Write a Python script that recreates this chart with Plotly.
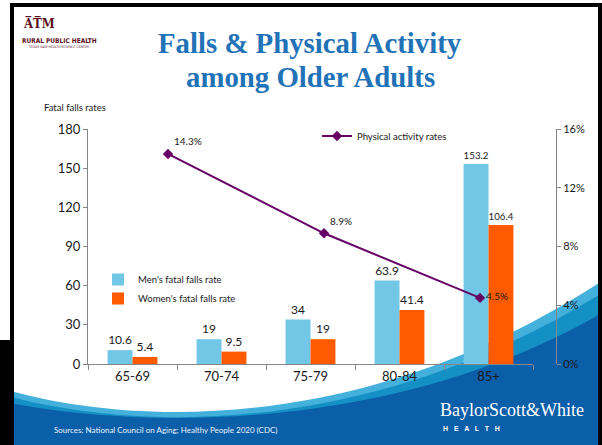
import plotly.graph_objects as go

W, H = 602, 445

# ---------------- data ----------------
categories = ["65-69", "70-74", "75-79", "80-84", "85+"]
men_rates = [10.6, 19, 34, 63.9, 153.2]
women_rates = [5.4, 9.5, 19, 41.4, 106.4]
pa_categories = ["65-69", "75-79", "85+"]
pa_rates = [0.143, 0.089, 0.045]
pa_labels = ["14.3%", "8.9%", "4.5%"]
left_ticks = [0, 30, 60, 90, 120, 150, 180]
right_ticks = [0, 0.04, 0.08, 0.12, 0.16]

FONT = "Lato, 'Open Sans', sans-serif"
TXT = "#1a1a1a"
AXC = "#868686"


def px(x):
    return x / W


def py(y):
    return 1 - y / H


def pt(x, y):
    return f"{px(x):.5f},{py(y):.5f}"


def wave(y_left, c1, c2, y_right):
    # closed region below a cubic curve, down to the bottom edge
    return (f"M {pt(0, y_left)} C {pt(*c1)} {pt(*c2)} {pt(602, y_right)} "
            f"L {pt(602, 445)} L {pt(0, 445)} Z")


fig = go.Figure()

fig.add_trace(go.Bar(
    x=categories, y=men_rates, name="Men's fatal falls rate",
    marker=dict(color="#72C6E6", line=dict(width=0)),
    text=[f"{v:g}" for v in men_rates], textposition="outside",
    textfont=dict(size=12, color=TXT, family=FONT), cliponaxis=False,
    legend="legend",
))
fig.add_trace(go.Bar(
    x=categories, y=women_rates, name="Women's fatal falls rate",
    marker=dict(color="#FF5A00", line=dict(width=0)),
    text=[f"{v:g}" for v in women_rates], textposition="outside",
    textfont=dict(size=12, color=TXT, family=FONT), cliponaxis=False,
    legend="legend",
))
fig.add_trace(go.Scatter(
    x=pa_categories, y=pa_rates, name="Physical activity rates",
    xaxis="x2", yaxis="y2", mode="lines+markers+text",
    line=dict(color="#660066", width=2),
    marker=dict(symbol="diamond", size=8, color="#660066"),
    text=pa_labels, textposition=["top right", "top right", "middle right"],
    textfont=dict(size=10, color=TXT, family=FONT), cliponaxis=False,
    legend="legend2",
))

# ---------------- background shapes ----------------
shapes = []
for ys, c1, c2, ye, col in [
    (388, (150, 432), (380, 426), 281, "#44B0DC"),
    (394, (150, 436), (380, 431), 293, "#1590C4"),
    (401, (150, 432), (400, 430), 313, "#0B5EA8"),
]:
    shapes.append(dict(type="path", xref="paper", yref="paper", layer="below",
                       line=dict(width=0), fillcolor=col, path=wave(ys, c1, c2, ye)))
# black frame
for x0, x1, y0, y1 in [(10, 14, 445, 3), (0, 10, 445, 340), (10, 602, 7, 3), (598, 602, 445, 3)]:
    shapes.append(dict(type="rect", xref="paper", yref="paper", layer="below",
                       x0=px(x0), x1=px(x1), y0=py(y0), y1=py(y1),
                       line=dict(width=0), fillcolor="black"))

# ---------------- annotations ----------------
ann = []


def text(x, y, s, size, color=TXT, family=FONT, xanchor="center", bold=False):
    if bold:
        s = f"<b>{s}</b>"
    ann.append(dict(x=px(x), y=py(y), xref="paper", yref="paper", text=s,
                    showarrow=False, xanchor=xanchor, yanchor="middle",
                    font=dict(size=size, color=color, family=family)))


SERIF = "'Liberation Serif', 'DejaVu Serif', serif"
CSERIF = "'DejaVu Serif Condensed', 'DejaVu Serif', serif"
CSANS = "'DejaVu Sans Condensed', 'Liberation Sans', Arial, sans-serif"
text(310, 43, "Falls &amp; Physical Activity", 28.8, "#2272B8", SERIF, bold=True)
text(310, 77, "among Older Adults", 28.8, "#2272B8", SERIF, bold=True)
# logo
text(39, 23, "A̅T̅M", 13, "#5C0F1C", CSERIF, bold=True)
text(59, 41, "RURAL PUBLIC HEALTH", 6.5, "#5C0F1C", CSANS, bold=True)
text(59, 47, "TEXAS A&amp;M HEALTH SCIENCE CENTER", 3.5, "#5C0F1C", CSANS)
text(42, 107, "Fatal falls rates", 9.5, TXT, FONT, xanchor="left")
text(52, 430, "Sources: National Council on Aging; Healthy People 2020 (CDC)", 8, "#EAF4FB", FONT, xanchor="left")
text(512, 410, "BaylorScott&amp;White", 18, "white", SERIF)
text(441, 428, "H   E   A   L   T   H", 7, "white", "'Liberation Sans', Arial, sans-serif", xanchor="left", bold=True)

fig.update_layout(
    width=W, height=H, margin=dict(l=0, r=0, t=0, b=0, pad=0, autoexpand=False),
    paper_bgcolor="white", plot_bgcolor="rgba(0,0,0,0)",
    font=dict(family=FONT, color=TXT),
    barmode="group", bargap=0.44, bargroupgap=0,
    shapes=shapes, annotations=ann,
    xaxis=dict(domain=[px(88), px(533)], anchor="y", type="category", automargin=False,
               showline=True, linecolor=AXC, linewidth=1,
               ticks="outside", tickson="boundaries", ticklen=5, tickcolor=AXC,
               tickfont=dict(size=13, color=TXT, family=FONT), showgrid=False),
    yaxis=dict(domain=[py(364), py(129)], range=[0, 180], tickvals=left_ticks, automargin=False,
               showline=True, linecolor=AXC, linewidth=1, ticks="outside",
               ticklen=4, tickcolor=AXC, showgrid=False, zeroline=False,
               tickfont=dict(size=13, color=TXT, family=FONT)),
    xaxis2=dict(domain=[px(90), px(558)], anchor="y2", type="category", automargin=False,
                range=[-0.5, 2.5], visible=False),
    yaxis2=dict(domain=[py(364), py(129)], anchor="free", position=px(556), automargin=False,
                side="right", range=[0, 0.16], tickvals=right_ticks,
                tickformat=".0%", showline=True, linecolor=AXC, linewidth=1,
                ticks="outside", ticklen=4, tickcolor=AXC, showgrid=False,
                zeroline=False, tickfont=dict(size=11, color=TXT, family=FONT)),
    legend=dict(x=px(98), y=py(265), xanchor="left", yanchor="top",
                bgcolor="rgba(0,0,0,0)", font=dict(size=9.5, color=TXT, family=FONT),
                tracegroupgap=0, itemclick=False),
    legend2=dict(x=px(317), y=py(136), xanchor="left", yanchor="middle",
                 bgcolor="rgba(0,0,0,0)", font=dict(size=9.5, color=TXT, family=FONT)),
)

fig.write_html("out.html")
